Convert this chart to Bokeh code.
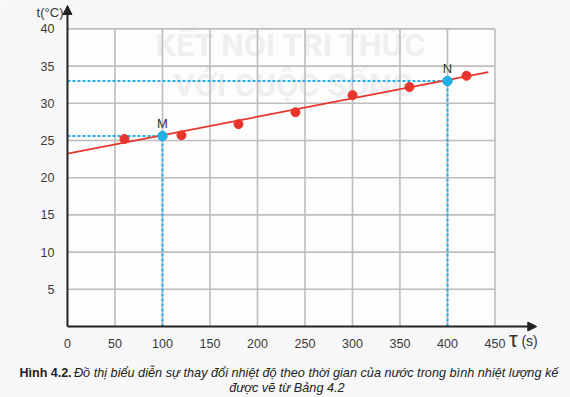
from bokeh.plotting import figure
from bokeh.models import Range1d, LinearAxis, FixedTicker, Arrow, NormalHead
from bokeh.core.properties import value
from bokeh.embed import file_html
from bokeh.resources import INLINE

# ---- data ----
time_s = [60, 120, 180, 240, 300, 360, 420]
temp_c = [25.2, 25.7, 27.2, 28.8, 31.1, 32.2, 33.7]
fit_time = [0, 443]
fit_temp = [23.25, 34.2]
mark_names = ["M", "N"]
mark_time = [100, 400]
mark_temp = [25.6, 33.0]
x_ticks = [0, 50, 100, 150, 200, 250, 300, 350, 400, 450]
y_ticks = [5, 10, 15, 20, 25, 30, 35, 40]
x_axis_end = 494
y_axis_end = 43.15

FONT = "Liberation Sans"
RED = "#e8352b"
BLUE = "#22aee6"
GRID = "#bdbdbd"
AX = "#222222"

p = figure(width=570, height=397,
           x_range=Range1d(-70.5, 529.5), y_range=Range1d(-9.54, 43.82),
           min_border=0, toolbar_location=None, output_backend="svg",
           x_axis_type=None, y_axis_type=None,
           background_fill_color="#f7f7f7", border_fill_color="#f7f7f7",
           outline_line_color=None)

# plot area (slightly whiter)
p.quad(left=[0], right=[x_ticks[-1]], bottom=[0], top=[y_ticks[-1]],
       fill_color="#fdfdfd", line_color=None)

# watermark
p.text(x=[236, 238], y=[37.8, 32.4], text=["KẾT NỐI TRI THỨC", "VỚI CUỘC SỐNG"],
       text_font=value("Roboto"), text_font_style="bold", text_font_size="32px",
       text_color="#efefef", text_align="center", text_baseline="middle")

# grid
p.segment(x0=x_ticks[1:], y0=0, x1=x_ticks[1:], y1=y_ticks[-1],
          line_color=GRID, line_width=1.6)
p.segment(x0=0, y0=y_ticks, x1=x_ticks[-1], y1=y_ticks,
          line_color=GRID, line_width=1.6)

# axes (tick labels only)
xaxis = LinearAxis(ticker=FixedTicker(ticks=x_ticks), fixed_location=0,
                   axis_line_color=None, major_tick_line_color=None,
                   minor_tick_line_color=None,
                   major_label_text_font=FONT, major_label_text_font_size="12.5px",
                   major_label_text_color="#3a3a3a", major_label_standoff=6)
p.add_layout(xaxis, "below")
yaxis = LinearAxis(ticker=FixedTicker(ticks=y_ticks), fixed_location=0,
                   axis_line_color=None, major_tick_line_color=None,
                   minor_tick_line_color=None,
                   major_label_text_font=FONT, major_label_text_font_size="12.5px",
                   major_label_text_color="#3a3a3a", major_label_standoff=7)
p.add_layout(yaxis, "left")

# dashed guides
p.segment(x0=0, y0=mark_temp, x1=mark_time, y1=mark_temp,
          line_color=BLUE, line_width=2, line_dash="3 2")
p.segment(x0=mark_time, y0=0, x1=mark_time, y1=mark_temp,
          line_color=BLUE, line_width=2, line_dash="3 2")

# axis arrows
p.add_layout(Arrow(x_start=0, y_start=0, x_end=x_axis_end, y_end=0,
                   line_color=AX, line_width=2,
                   end=NormalHead(size=9, fill_color=AX, line_color=AX)))
p.add_layout(Arrow(x_start=0, y_start=0, x_end=0, y_end=y_axis_end,
                   line_color=AX, line_width=2,
                   end=NormalHead(size=9, fill_color=AX, line_color=AX)))

# fit line and points
p.line(fit_time, fit_temp, line_color=RED, line_width=1.8)
p.scatter(time_s, temp_c, size=9, fill_color=RED, line_color=RED)
p.scatter(mark_time, mark_temp, size=9.5, fill_color=BLUE, line_color=BLUE)
p.text(x=mark_time, y=mark_temp, text=mark_names, y_offset=-13,
       text_font=value(FONT), text_font_size="13px", text_color="#333333",
       text_align="center", text_baseline="middle")

# axis titles
p.text(x=[0], y=[y_axis_end], text=["t(°C)"], x_offset=-4, y_offset=7,
       text_font=value(FONT), text_font_size="13px", text_color="#333333",
       text_align="right", text_baseline="middle")
p.text(x=[x_axis_end], y=[0], text=["(s)"], x_offset=1, y_offset=14,
       text_font=value(FONT), text_font_size="14px", text_color="#333333",
       text_align="right", text_baseline="middle")
p.text(x=[x_axis_end], y=[0], text=["τ"], x_offset=-19, y_offset=13,
       text_font=value(FONT), text_font_size="22px", text_color="#333333",
       text_align="right", text_baseline="middle")

# caption
p.text(x=[-50.5], y=[-6.18], text=["Hình 4.2."],
       text_font=value(FONT), text_font_style="bold", text_font_size="12.5px",
       text_color="#222222", text_align="left", text_baseline="middle")
p.text(x=[6.8], y=[-6.18],
       text=["Đồ thị biểu diễn sự thay đổi nhiệt độ theo thời gian của nước trong bình nhiệt lượng kế"],
       text_font=value(FONT), text_font_style="italic", text_font_size="12.7px",
       text_color="#222222", text_align="left", text_baseline="middle")
p.text(x=[231], y=[-8.2], text=["được vẽ từ Bảng 4.2"],
       text_font=value(FONT), text_font_style="italic", text_font_size="12.7px",
       text_color="#222222", text_align="center", text_baseline="middle")

open("out.html", "w").write(file_html(p, INLINE))
